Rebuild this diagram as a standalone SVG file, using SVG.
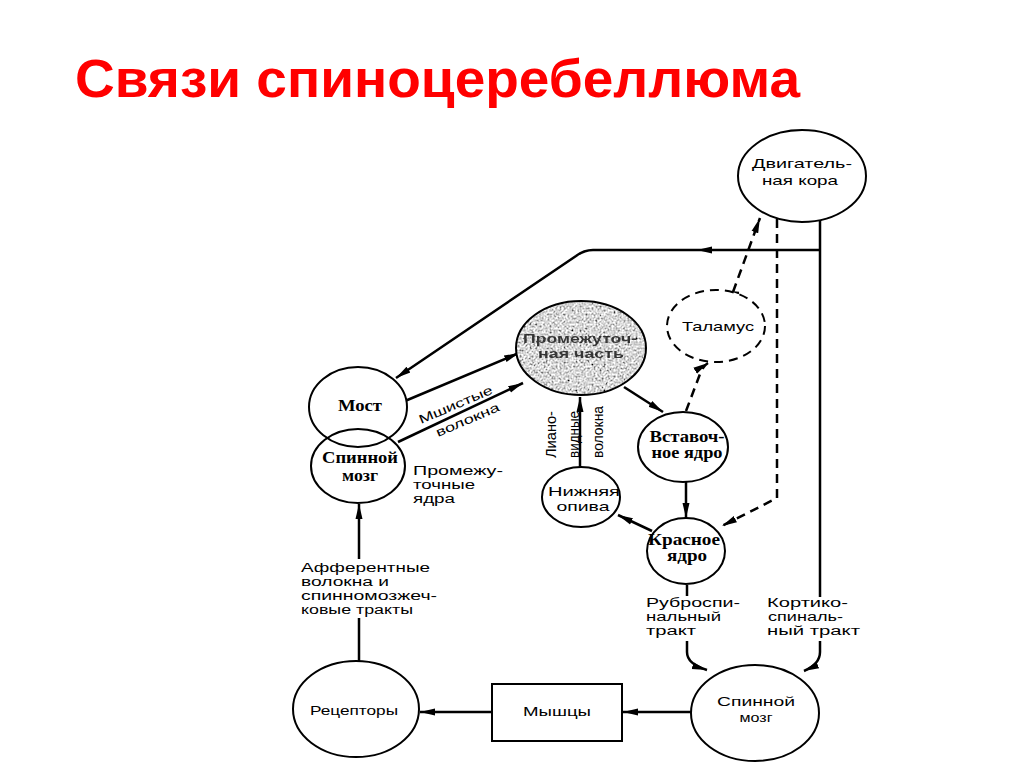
<svg xmlns="http://www.w3.org/2000/svg" width="1024" height="767" viewBox="0 0 1024 767">
<style>
.title{font-family:"Liberation Sans",Arial,sans-serif;font-weight:bold;font-size:54px;fill:#ff0000}
.nd{fill:#fff;stroke:#000;stroke-width:2}
.s{font-family:"Liberation Sans",Arial,sans-serif;font-size:13px;fill:#000}
.l{font-family:"Liberation Sans",Arial,sans-serif;font-size:12.5px;fill:#000}
.v{font-family:"Liberation Sans",Arial,sans-serif;font-size:14px;fill:#000}
.sb{font-family:"Liberation Sans",Arial,sans-serif;font-size:13px;font-weight:bold;fill:#1a1a1a}
.r{font-family:"Liberation Serif","Times New Roman",serif;font-size:16px;font-weight:bold;fill:#000}
.c{text-anchor:middle}
.ln{fill:none;stroke:#000;stroke-width:2.5}
.lnd{fill:none;stroke:#000;stroke-width:2.5;stroke-dasharray:9,6}
</style>
<defs>
<marker id="ah" markerUnits="userSpaceOnUse" markerWidth="16" markerHeight="10" refX="15" refY="5" orient="auto">
<path d="M0,1.5 L15,5 L0,8.5 z" fill="#000"/>
</marker>
<filter id="speckle" x="0" y="0" width="100%" height="100%">
<feTurbulence type="fractalNoise" baseFrequency="0.5" numOctaves="3" seed="7" result="n"/>
<feColorMatrix in="n" type="matrix" values="0.33 0.33 0.33 0 0  0.33 0.33 0.33 0 0  0.33 0.33 0.33 0 0  0 0 0 0 1" result="g"/>
<feComponentTransfer in="g" result="c">
<feFuncR type="linear" slope="3.2" intercept="-0.9"/>
<feFuncG type="linear" slope="3.2" intercept="-0.9"/>
<feFuncB type="linear" slope="3.2" intercept="-0.9"/>
</feComponentTransfer>
<feComposite in="c" in2="SourceAlpha" operator="in"/>
</filter>
</defs>
<rect width="1024" height="767" fill="#fff"/>
<text class="title" x="75" y="97" textLength="725" lengthAdjust="spacingAndGlyphs">Связи спиноцеребеллюма</text>

<g id="connectors">
<path class="ln" d="M820,218 L820,597"/>
<path class="ln" d="M820,641 L820,652 Q820,664 804,671" marker-end="url(#ah)"/>
<path class="ln" d="M820,250 L697,250" marker-end="url(#ah)"/>
<path class="ln" d="M697,250 L593,250 Q584,250 576,256 L396,378" marker-end="url(#ah)"/>
<path class="lnd" d="M777,219 L777,498 L722,526" marker-end="url(#ah)"/>
<path class="lnd" d="M733,292 L760,218" marker-end="url(#ah)"/>
<path class="ln" d="M727,292 L739,293"/>
<path class="lnd" d="M686,411 L700,374 Q703,366 708,363" marker-end="url(#ah)"/>
<path class="ln" d="M624,387 L663,412" marker-end="url(#ah)"/>
<path class="ln" d="M686,482 L686,518" marker-end="url(#ah)"/>
<path class="ln" d="M652,531 L618,515" marker-end="url(#ah)"/>
<path class="ln" d="M580,467 L580,397" marker-end="url(#ah)"/>
<path class="ln" d="M405,401 L519,353" marker-end="url(#ah)"/>
<path class="ln" d="M398,442 L523,383" marker-end="url(#ah)"/>
<path class="ln" d="M359,661 L359,618"/>
<path class="ln" d="M359,559 L359,504" marker-end="url(#ah)"/>
<path class="ln" d="M492,712 L420,712" marker-end="url(#ah)"/>
<path class="ln" d="M691,712 L623,712" marker-end="url(#ah)"/>
<path class="ln" d="M687,585 L687,596"/>
<path class="ln" d="M687,641 L687,652 Q687,664 707,670" marker-end="url(#ah)"/>
</g>

<g id="motor-cortex">
<ellipse class="nd" cx="802" cy="176" rx="64" ry="46"/>
<text class="s c" x="802" y="168" textLength="100" lengthAdjust="spacingAndGlyphs">Двигатель-</text>
<text class="s c" x="800" y="185" textLength="76" lengthAdjust="spacingAndGlyphs">ная кора</text>
</g>
<g id="thalamus">
<ellipse class="nd" cx="716" cy="326" rx="49" ry="36" stroke-dasharray="9,6"/>
<text class="s c" x="718" y="331" textLength="72" lengthAdjust="spacingAndGlyphs">Таламус</text>
</g>
<g id="intermediate-part">
<ellipse cx="581" cy="348" rx="65" ry="47" fill="#888" filter="url(#speckle)"/>
<ellipse cx="581" cy="348" rx="65" ry="47" fill="none" stroke="#000" stroke-width="2"/>
<text class="sb c" x="580" y="343" opacity="0.85" textLength="114" lengthAdjust="spacingAndGlyphs">Промежуточ-</text>
<text class="sb c" x="581" y="358" opacity="0.85" textLength="86" lengthAdjust="spacingAndGlyphs">ная часть</text>
</g>
<g id="pons">
<ellipse class="nd" cx="358" cy="407" rx="49" ry="40"/>
<text class="r c" x="360" y="411" textLength="44" lengthAdjust="spacingAndGlyphs">Мост</text>
</g>
<g id="spinal-cord-upper">
<ellipse cx="358" cy="466" rx="47" ry="37" fill="none" stroke="#000" stroke-width="2"/>
<text class="r c" x="360" y="463" textLength="76" lengthAdjust="spacingAndGlyphs">Спинной</text>
<text class="r c" x="360" y="481" textLength="36" lengthAdjust="spacingAndGlyphs">мозг</text>
</g>
<g id="interposed-nucleus">
<ellipse class="nd" cx="683" cy="447" rx="45" ry="35"/>
<text class="r c" x="687" y="442" textLength="75" lengthAdjust="spacingAndGlyphs">Вставоч-</text>
<text class="r c" x="687" y="458" textLength="71" lengthAdjust="spacingAndGlyphs">ное ядро</text>
</g>
<g id="inferior-olive">
<ellipse class="nd" cx="581" cy="497" rx="39" ry="30"/>
<text class="s c" x="584" y="496" textLength="72" lengthAdjust="spacingAndGlyphs">Нижняя</text>
<text class="s c" x="583" y="511" textLength="53" lengthAdjust="spacingAndGlyphs">опива</text>
</g>
<g id="red-nucleus">
<ellipse class="nd" cx="686" cy="551" rx="39" ry="33"/>
<text class="r c" x="684" y="545" textLength="72" lengthAdjust="spacingAndGlyphs">Красное</text>
<text class="r c" x="687" y="561" textLength="40" lengthAdjust="spacingAndGlyphs">ядро</text>
</g>
<g id="receptors">
<ellipse class="nd" cx="356" cy="709" rx="63" ry="48"/>
<text class="s c" x="354" y="715" textLength="88" lengthAdjust="spacingAndGlyphs">Рецепторы</text>
</g>
<g id="muscles">
<rect class="nd" x="492" y="684" width="130" height="57"/>
<text class="s c" x="557" y="716" textLength="68" lengthAdjust="spacingAndGlyphs">Мышцы</text>
</g>
<g id="spinal-cord-lower">
<ellipse class="nd" cx="755" cy="713" rx="64" ry="48"/>
<text class="s c" x="756" y="706" textLength="78" lengthAdjust="spacingAndGlyphs">Спинной</text>
<text class="s c" x="756" y="722" textLength="33" lengthAdjust="spacingAndGlyphs">мозг</text>
</g>

<g id="labels">
<text class="l" x="421" y="424" transform="rotate(-23 421 424)" textLength="79" lengthAdjust="spacingAndGlyphs">Мшистые</text>
<text class="l" x="438" y="437" transform="rotate(-23 438 437)" textLength="68" lengthAdjust="spacingAndGlyphs">волокна</text>
<text class="l" x="413" y="475" textLength="90" lengthAdjust="spacingAndGlyphs">Промежу-</text>
<text class="l" x="413" y="489" textLength="62" lengthAdjust="spacingAndGlyphs">точные</text>
<text class="l" x="413" y="503" textLength="42" lengthAdjust="spacingAndGlyphs">ядра</text>
<text class="v" x="556" y="458" transform="rotate(-90 556 458)" textLength="47" lengthAdjust="spacingAndGlyphs">Лиано-</text>
<text class="v" x="579" y="458" transform="rotate(-90 579 458)" textLength="47" lengthAdjust="spacingAndGlyphs">видные</text>
<text class="v" x="603" y="458" transform="rotate(-90 603 458)" textLength="52" lengthAdjust="spacingAndGlyphs">волокна</text>
<text class="l" x="301" y="572" textLength="129" lengthAdjust="spacingAndGlyphs">Афферентные</text>
<text class="l" x="301" y="586" textLength="88" lengthAdjust="spacingAndGlyphs">волокна и</text>
<text class="l" x="301" y="600" textLength="136" lengthAdjust="spacingAndGlyphs">спинномозжеч-</text>
<text class="l" x="301" y="614" textLength="112" lengthAdjust="spacingAndGlyphs">ковые тракты</text>
<text class="l" x="646" y="607" textLength="94" lengthAdjust="spacingAndGlyphs">Руброспи-</text>
<text class="l" x="646" y="621" textLength="75" lengthAdjust="spacingAndGlyphs">нальный</text>
<text class="l" x="646" y="635" textLength="50" lengthAdjust="spacingAndGlyphs">тракт</text>
<text class="l" x="767" y="607" textLength="81" lengthAdjust="spacingAndGlyphs">Кортико-</text>
<text class="l" x="768" y="621" textLength="75" lengthAdjust="spacingAndGlyphs">спиналь-</text>
<text class="l" x="767" y="635" textLength="93" lengthAdjust="spacingAndGlyphs">ный тракт</text>
</g>
</svg>
